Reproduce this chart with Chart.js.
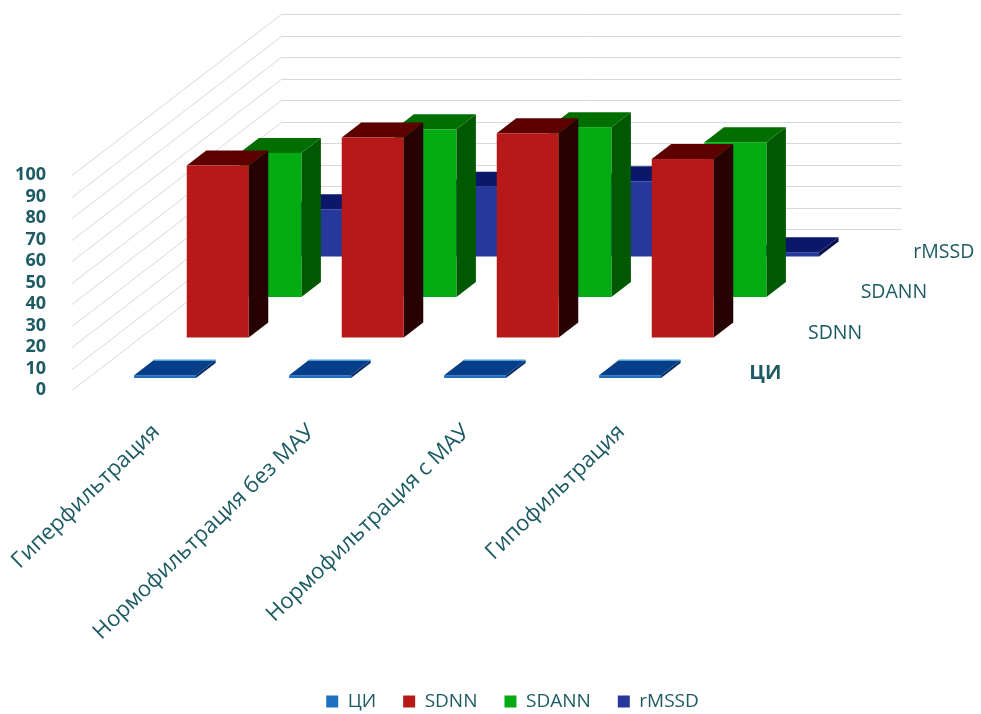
<!DOCTYPE html>
<html>
<head>
<meta charset="utf-8">
<script src="https://cdn.jsdelivr.net/npm/chart.js@4/dist/chart.umd.min.js"></script>
<style>
    html, body { margin: 0; padding: 0; background: #ffffff; }
    #wrap { width: 981px; height: 714px; position: relative; }
</style>
</head>
<body>
<div id="wrap"><canvas id="chart" width="981" height="714"></canvas></div>
<script>
/**
 * Данные графика.
 */
const categories = ['Гиперфильтрация', 'Нормофильтрация без МАУ', 'Нормофильтрация с МАУ', 'Гипофильтрация'];
const seriesNames = ['ЦИ', 'SDNN', 'SDANN', 'rMSSD'];
const ciValues = [1.3, 1.3, 1.3, 1.3];
const sdnnValues = [80, 93, 95, 83];
const sdannValues = [67, 78, 79, 72];
const rmssdValues = [22, 32.5, 35, 2];
const yTicks = [0, 10, 20, 30, 40, 50, 60, 70, 80, 90, 100];

/**
 * Цвета граней: лицевая, верхняя, боковая.
 */
const FACE_COLORS = [
    { front: '#1f6fc2', top: '#063f88', side: '#042c66', edge: '#4aa0e0' },
    { front: '#b71818', top: '#5c0000', side: '#260202', edge: null },
    { front: '#03ab12', top: '#006f00', side: '#005800', edge: null },
    { front: '#27389c', top: '#0b176a', side: '#07104c', edge: null }
];

const TEXT_COLOR = '#1c5b63';
const GRID_COLOR = '#d3d9dc';

/**
 * Псевдо-3D: глубина пола и положение рядов (в пикселях по вертикали, по горизонтали * K).
 */
const DEPTH_Y = 161;
const DEPTH_K = 1.3;
const ROW_FRONT = 12;
const ROW_PITCH = 40.5;
const BAR_DEPTH = 15;

const valuesBySeries = [ciValues, sdnnValues, sdannValues, rmssdValues];

const box3d = {
    id: 'box3d',
    /**
     * Легенда в оригинале чуть правее и ниже центра холста.
     */
    afterLayout(chart) {
        const lg = chart.legend;
        lg.left += 22;
        lg.right += 22;
        lg.top += 7;
        lg.bottom += 7;
    },
    beforeDatasetsDraw(chart) {
        const { ctx, chartArea, scales } = chart;
        const y = scales.y;
        const backDx = DEPTH_Y * DEPTH_K;

        ctx.save();
        ctx.strokeStyle = GRID_COLOR;
        ctx.lineWidth = 1;

        // стенки: левая и задняя
        yTicks.forEach((t) => {
            const py = Math.round(y.getPixelForValue(t)) + 0.5;
            ctx.beginPath();
            ctx.moveTo(chartArea.left, py);
            ctx.lineTo(chartArea.left + backDx, py - DEPTH_Y);
            ctx.lineTo(chartArea.right + backDx, py - DEPTH_Y);
            ctx.stroke();
        });

        // ряды от дальнего к ближнему
        for (let s = seriesNames.length - 1; s >= 0; s--) {
            const meta = chart.getDatasetMeta(s);
            const c = FACE_COLORS[s];
            const offY = ROW_FRONT + ROW_PITCH * s;
            const offX = offY * DEPTH_K;
            const ddy = BAR_DEPTH;
            const ddx = BAR_DEPTH * DEPTH_K;

            meta.data.forEach((bar) => {
                const p = bar.getProps(['x', 'y', 'base', 'width'], true);
                const x0 = p.x - p.width / 2 + offX;
                const x1 = p.x + p.width / 2 + offX;
                const top = p.y - offY;
                const base = p.base - offY;

                // боковая грань
                ctx.fillStyle = c.side;
                ctx.beginPath();
                ctx.moveTo(x1, top);
                ctx.lineTo(x1 + ddx, top - ddy);
                ctx.lineTo(x1 + ddx, base - ddy);
                ctx.lineTo(x1, base);
                ctx.closePath();
                ctx.fill();

                // верхняя грань
                ctx.fillStyle = c.top;
                ctx.beginPath();
                ctx.moveTo(x0, top);
                ctx.lineTo(x1, top);
                ctx.lineTo(x1 + ddx, top - ddy);
                ctx.lineTo(x0 + ddx, top - ddy);
                ctx.closePath();
                ctx.fill();

                if (c.edge) {
                    ctx.strokeStyle = c.edge;
                    ctx.lineWidth = 1.5;
                    ctx.beginPath();
                    ctx.moveTo(x0 + ddx, top - ddy);
                    ctx.lineTo(x1 + ddx, top - ddy);
                    ctx.stroke();
                }

                // лицевая грань
                ctx.fillStyle = c.front;
                ctx.fillRect(x0, top, x1 - x0, base - top);
            });

            // подпись ряда справа
            const midY = offY + BAR_DEPTH / 2;
            ctx.fillStyle = TEXT_COLOR;
            ctx.font = s === 0 ? 'bold 20px "Open Sans"' : '19.5px "Open Sans"';
            ctx.textAlign = 'left';
            ctx.textBaseline = 'middle';
            ctx.fillText(seriesNames[s], chartArea.right + midY * DEPTH_K + (s === 0 ? 32 : 38), chartArea.bottom - midY + 3);
        }

        ctx.restore();
        return false;
    }
};

const onDOMLoaded = () => {
    const CHART = document.getElementById('chart').getContext('2d');

    const datasets = seriesNames.map((name, i) => ({
        label: name,
        data: valuesBySeries[i],
        backgroundColor: FACE_COLORS[i].front,
        borderWidth: 0
    }));

    new Chart(CHART, {
        type: 'bar',
        data: { labels: categories, datasets },
        options: {
            responsive: false,
            animation: false,
            grouped: false,
            barPercentage: 0.4,
            categoryPercentage: 1,
            layout: { padding: { top: 175, right: 0, left: 0, bottom: 0 } },
            plugins: {
                tooltip: { enabled: false },
                legend: {
                    position: 'bottom',
                    labels: {
                        color: TEXT_COLOR,
                        font: { family: 'Open Sans', size: 19 },
                        boxWidth: 12,
                        boxHeight: 12,
                        padding: 27
                    }
                }
            },
            scales: {
                x: {
                    grid: { display: false },
                    border: { display: false },
                    ticks: {
                        color: TEXT_COLOR,
                        font: { family: 'Open Sans', size: 22 },
                        minRotation: 44,
                        maxRotation: 44,
                        autoSkip: false,
                        padding: 21,
                        labelOffset: 7
                    },
                    afterFit: (scale) => {
                        scale.height = 268;
                        scale.paddingLeft = 0;
                        scale.paddingRight = 0;
                    }
                },
                y: {
                    min: 0,
                    max: 100,
                    grid: { display: false, drawTicks: false },
                    border: { display: false },
                    ticks: {
                        stepSize: 10,
                        autoSkip: false,
                        color: TEXT_COLOR,
                        font: { family: 'Open Sans', size: 18, weight: 'bold', lineHeight: 1 },
                        padding: 26
                    },
                    afterFit: (scale) => { scale.width = 72; }
                },
                // пустая ось справа оставляет место под глубину и подписи рядов
                depth: {
                    position: 'right',
                    grid: { display: false },
                    border: { display: false },
                    ticks: { display: false },
                    afterFit: (scale) => { scale.width = 289; }
                }
            }
        },
        plugins: [box3d]
    });
};

document.addEventListener('DOMContentLoaded', onDOMLoaded);
</script>
</body>
</html>
